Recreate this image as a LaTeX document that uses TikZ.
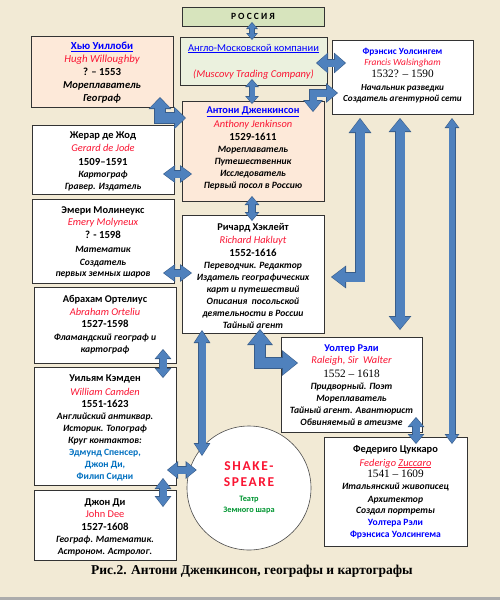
\documentclass[tikz,border=0pt]{standalone}
\usepackage{fontspec}
\setmainfont{Carlito}
\newfontfamily\capfont{Liberation Serif}
\newfontfamily\numfont{Liberation Serif}
\newfontfamily\shkfont[LetterSpace=12]{Carlito}
\usetikzlibrary{arrows.meta,calc}
\definecolor{bgc}{RGB}{242,234,213}
\definecolor{peach}{RGB}{253,233,217}
\definecolor{angfill}{RGB}{235,241,222}
\definecolor{rusfill}{RGB}{215,228,189}
\definecolor{afill}{RGB}{79,129,189}
\definecolor{aline}{RGB}{56,93,138}
\definecolor{tblue}{RGB}{0,0,255}
\definecolor{tred}{RGB}{250,20,50}
\definecolor{lblue}{RGB}{0,112,192}
\definecolor{tgreen}{RGB}{0,150,50}
\setlength\parskip{0pt}
\newcommand\Ltxt[3]{{\fontsize{#1}{#2}\selectfont\leavevmode#3\par}}
\newcommand\nsz{10.4}
\newcommand\dsz{9.6}
\newcommand\ysz{10.8}
\newcommand\NB[1]{\Ltxt{\nsz}{13}{\bfseries\color{tblue}#1}}
\newcommand\NK[1]{\Ltxt{\nsz}{13}{\bfseries #1}}
\newcommand\NR[2][13]{\Ltxt{\nsz}{#1}{\itshape\color{tred}#2}}
\newcommand\YR[2][13]{\Ltxt{\ysz}{#1}{\bfseries #2}}
\newcommand\YS[2][13]{\Ltxt{11.3}{#1}{\numfont #2}}
\newcommand\DS[2][12]{\Ltxt{\dsz}{#1}{\bfseries\itshape #2}}
\newcommand\DB[2][12]{\Ltxt{\dsz}{#1}{\bfseries\color{tblue}#2}}
\newcommand\DL[2][12]{\Ltxt{\dsz}{#1}{\bfseries\color{lblue}#2}}
\newcommand\bx[4]{\parbox[c][#2pt][t]{#1pt}{\centering\vspace*{#3pt}#4}}
\newcommand\barrow[5][]{%
 \pgfmathsetmacro\bsO{#2+1.5}\pgfmathsetmacro\bhO{#3+2.8}\pgfmathsetmacro\blO{#4+2}%
 \draw[draw=aline,#1,line width=\bsO pt,arrows={Triangle[width=\bhO pt,length=\blO pt,line width=0pt]-Triangle[width=\bhO pt,length=\blO pt,line width=0pt]}] #5;
 \draw[draw=afill,#1,line width=#2pt,shorten <=1pt,shorten >=1pt,arrows={Triangle[width=#3pt,length=#4pt,line width=0pt]-Triangle[width=#3pt,length=#4pt,line width=0pt]}] #5;}
\begin{document}
\begin{tikzpicture}[x=1pt,y=-1pt,
  box/.style={draw=black!80,line width=0.7pt,inner sep=0pt,outer sep=0pt,fill=white},
  shkcircle/.style={circle,draw=gray!60!black,line width=0.6pt,fill=white,minimum size=124pt,inner sep=0pt}]
\useasboundingbox (0,0) rectangle (500,600);
\fill[bgc] (0,0) rectangle (500,600);
\fill[gray!65] (0,596.5) rectangle (500,600);

\node[box,fill=rusfill,minimum width=142pt,minimum height=19pt] (rus) at (253,16.5)
  {\fontsize{9.5}{11}\selectfont\bfseries Р\ О\ С\ С\ И\ Я};
\node[box,fill=angfill] (ang) at (253.5,61) {\bx{147}{48}{7}{%
  \Ltxt{10.5}{13}{\color{tblue}\underline{Англо-Московской компании}}%
  \Ltxt{10.5}{26}{\itshape\color{tred}(Muscovy Trading Company)}}};
\node[box,fill=peach] (wil) at (102,71.5) {\bx{142}{71}{6}{%
  \renewcommand\nsz{10.8}\renewcommand\dsz{10.6}%
  \NB{\underline{Хью Уиллоби}}\NR{Hugh Willoughby}\YR{? – 1553}%
  \DS[13]{Мореплаватель}\DS[13]{Географ}}};
\node[box] (wal) at (402.5,77) {\bx{141}{74}{8}{%
  \renewcommand\nsz{9.4}\renewcommand\dsz{9.2}%
  \NB{Фрэнсис Уолсингем}\NR[11]{Francis Walsingham}\YS[12]{1532? – 1590}%
  \DS[13]{Начальник разведки}\DS[11]{Создатель агентурной сети}}};
\node[box,fill=peach] (jen) at (253,151) {\bx{142}{100}{5.5}{%
  \NB{\underline{Антони Дженкинсон}}\NR[14]{Anthony Jenkinson}\YR{1529-1611}%
  \DS{Мореплаватель}\DS{Путешественник}\DS{Исследователь}\DS{Первый посол в Россию}}};
\node[box] (ger) at (103,159.5) {\bx{142}{69}{7}{%
  \NK{Жерар де Жод}\NR{Gerard de Jode}\YR[14]{1509–1591}%
  \DS{Картограф}\DS{Гравер. Издатель}}};
\node[box] (mol) at (103,241) {\bx{142}{84}{8}{%
  \NK{Эмери Молинеукс}\NR[12]{Emery Molyneux}\YR{? - 1598}%
  \DS[14]{Математик}\DS[13]{Создатель}\DS[11]{первых земных шаров}}};
\node[box] (hak) at (253,274) {\bx{142}{118}{8}{%
  \NK{Ричард Хэклейт}\NR{Richard Hakluyt}\YR{1552-1616}%
  \DS{Переводчик. Редактор}\DS{Издатель географических}\DS{карт и путешествий}%
  \DS{Описания\ \ посольской}\DS{деятельности в России}\DS{Тайный агент}}};
\node[box] (ort) at (105,325) {\bx{142}{76}{8}{%
  \NK{Абрахам Ортелиус}\NR{Abraham Orteliu}\YR[12]{1527-1598}%
  \DS[13]{Фламандский географ и}\DS{картограф}}};
\node[box] (ral) at (351.5,384.5) {\bx{141}{95}{8}{%
  \NB{Уолтер Рэли}\NR[12]{Raleigh, Sir\ \ Walter}\YS[14]{1552 – 1618}%
  \DS{Придворный. Поэт}\DS{Мореплаватель}\DS{Тайный агент. Авантюрист}\DS{Обвиняемый в атеизме}}};
\node[box] (cam) at (105,426) {\bx{142}{118}{7.5}{%
  \NK{Уильям Кэмден}\NR[14]{William Camden}\YR[12]{1551-1623}%
  \DS{Английский антиквар.}\DS{Историк. Топограф}\DS{Круг контактов:}%
  \DL{Эдмунд Спенсер,}\DL{Джон Ди,}\DL{Филип Сидни}}};
\node[box] (dee) at (105,525) {\bx{142}{70}{9}{%
  \NK{Джон Ди}\Ltxt{\nsz}{12}{\color{tred}John Dee}\YR{1527-1608}%
  \DS{Географ. Математик.}\DS{Астроном. Астролог.}}};
\node[box] (zuc) at (395.5,491.5) {\bx{143}{109}{8}{%
  \NK{Федериго Цуккаро}\NR[14]{Federigo \underline{Zuccaro}}\YS[11]{1541 – 1609}%
  \DS{Итальянский живописец}\DS[13]{Архитектор}\DS[11]{Создал портреты}%
  \DB{Уолтера Рэли}\DB{Фрэнсиса Уолсингема}}};
\node[shkcircle] (shk) at (249,488) {\parbox{110pt}{\centering
  \Ltxt{13.5}{16}{\bfseries\shkfont\color{tred}SHAKE-}%
  \Ltxt{13.5}{16}{\bfseries\shkfont\color{tred}SPEARE}%
  \Ltxt{8.3}{15}{\bfseries\color{tgreen}Театр}%
  \Ltxt{8.3}{11}{\bfseries\color{tgreen}Земного шара}}};
\node (cap) at (252,571) {\fontsize{13.5}{15}\selectfont\capfont\bfseries Рис.2. Антони Дженкинсон, географы и картографы};

% block arrows
\barrow{4}{9}{5}{($(rus.south)+(-1,-4)$) -- ($(ang.north)+(-1.5,3)$)}
\barrow{5}{11}{6}{($(ang.south)+(-1.5,-6)$) -- ($(jen.north)+(-1,3)$)}
\barrow{10}{20}{10}{($(wil.south east)+(-13,-10)$) |- ($(jen.west)+(4,-33)$)}
\barrow{7}{18}{10}{($(ang.east)+(-11,2)$) -- ($(wal.west)+(14,-14)$)}
\barrow{7}{17}{10}{($(jen.north east)+(-11,11)$) |- ($(wal.west)+(6,16)$)}
\barrow{7}{15}{10}{($(ger.east)+(-11,14.5)$) -- ($(jen.west)+(10,23)$)}
\barrow{6}{12}{7}{($(jen.south)+(-1,-5)$) -- ($(hak.north)+(-1,6)$)}
\barrow{7}{15}{10}{($(mol.east)+(-11,32)$) -- ($(hak.west)+(10,-1)$)}
\barrow{9}{20}{13}{($(wal.south)+(-42.5,4)$) |- ($(hak.east)+(7,3)$)}
\barrow{9}{20}{12}{($(wal.south)+(-2.5,4)$) -- ($(ral.north)+(48.5,-7)$)}
\barrow{5.5}{12}{8}{($(wal.south)+(49.5,4)$) -- ($(zuc.north)+(56.5,7)$)}
\barrow{10}{23}{14}{($(hak.south)+(7,-4)$) |- ($(ral.west)+(17,-21.5)$)}
\barrow{7}{14}{11}{($(hak.south)+(-51,-3)$) -- ($(shk.center)+(-47,-32)$)}
\barrow{7}{14}{8}{($(ort.south)+(58,-14)$) -- ($(cam.north)+(58,11)$)}
\barrow{7}{15}{9}{($(cam.east)+(-9,44)$) -- ($(shk.west)+(10,-18)$)}
\barrow{7}{14}{9}{($(cam.south)+(58,-7)$) -- ($(dee.north)+(58,17)$)}
\barrow{7}{14}{8}{($(ral.south)+(64.5,-15)$) -- ($(zuc.north)+(20.5,7)$)}
\end{tikzpicture}
\end{document}
